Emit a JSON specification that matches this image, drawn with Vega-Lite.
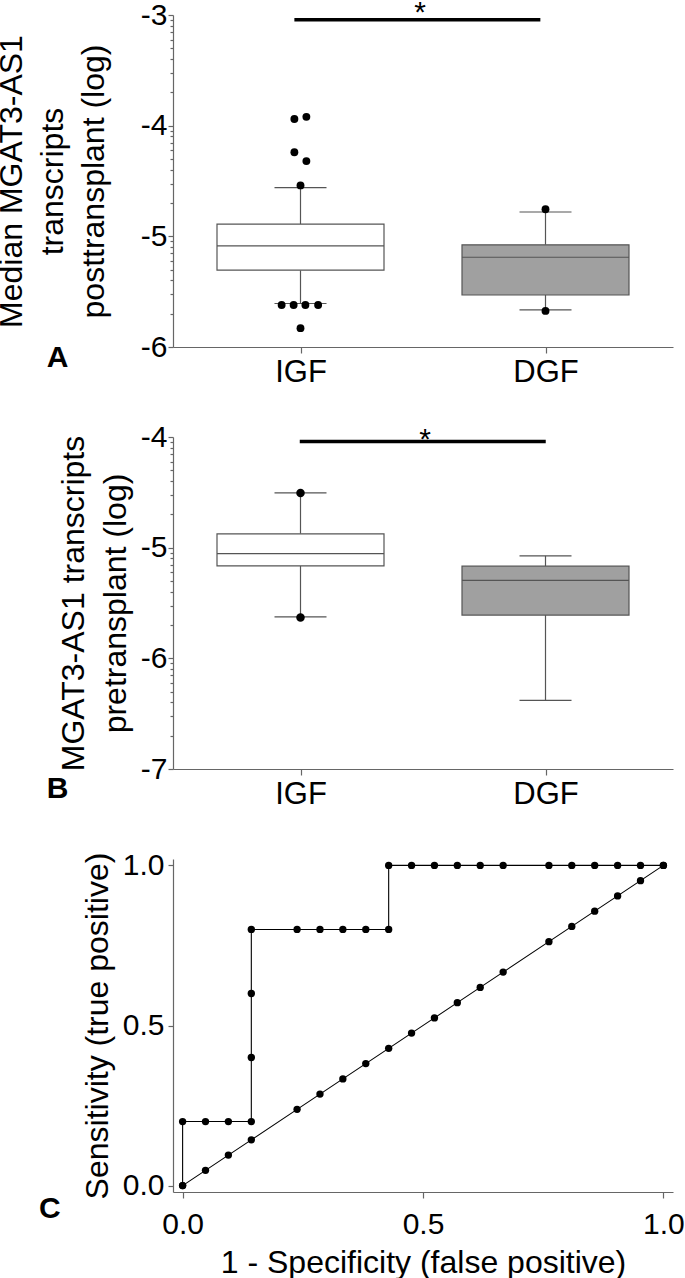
{
  "$schema": "https://vega.github.io/schema/vega-lite/v6.json",
  "padding": {"left": -5, "top": -2, "right": 0, "bottom": 0},
  "background": "white",
  "bounds": "flush",
  "spacing": 90,
  "config": {
    "font": "Liberation Sans",
    "view": {"stroke": null},
    "axis": {
      "grid": false,
      "domainColor": "#666666",
      "tickColor": "#666666",
      "domainWidth": 1.2,
      "tickWidth": 1.2,
      "labelColor": "black",
      "titleColor": "black",
      "labelFont": "Liberation Sans",
      "titleFont": "Liberation Sans",
      "labelFontSize": 30,
      "titleFontSize": 32,
      "titleFontWeight": "normal",
      "labelFlush": false,
      "labelOverlap": false
    }
  },
  "datasets": {
    "boxA": [
      {"grp": "IGF", "pos": 1, "lo": -5.607, "q1": -5.306, "median": -5.087, "q3": -4.89, "hi": -4.56},
      {"grp": "DGF", "pos": 2, "lo": -5.665, "q1": -5.53, "median": -5.189, "q3": -5.077, "hi": -4.78}
    ],
    "ptsA": [
      {"grp": "IGF", "pos": 0.975, "val": -3.94},
      {"grp": "IGF", "pos": 1.024, "val": -3.92},
      {"grp": "IGF", "pos": 0.975, "val": -4.24},
      {"grp": "IGF", "pos": 1.024, "val": -4.32},
      {"grp": "IGF", "pos": 1.0, "val": -4.54},
      {"grp": "IGF", "pos": 0.923, "val": -5.62},
      {"grp": "IGF", "pos": 0.972, "val": -5.62},
      {"grp": "IGF", "pos": 1.02, "val": -5.62},
      {"grp": "IGF", "pos": 1.072, "val": -5.62},
      {"grp": "IGF", "pos": 1.0, "val": -5.83},
      {"grp": "DGF", "pos": 2.0, "val": -4.755},
      {"grp": "DGF", "pos": 2.0, "val": -5.674}
    ],
    "boxB": [
      {"grp": "IGF", "pos": 1, "lo": -5.625, "q1": -5.164, "median": -5.053, "q3": -4.875, "hi": -4.505},
      {"grp": "DGF", "pos": 2, "lo": -6.379, "q1": -5.609, "median": -5.296, "q3": -5.167, "hi": -5.074}
    ],
    "ptsB": [
      {"grp": "IGF", "pos": 1.0, "val": -4.505},
      {"grp": "IGF", "pos": 1.0, "val": -5.63}
    ],
    "roc": [
      {"curve": "ROC", "n": 0, "fpr": 0, "tpr": 0},
      {"curve": "ROC", "n": 1, "fpr": 0, "tpr": 0.2},
      {"curve": "ROC", "n": 2, "fpr": 0.0476, "tpr": 0.2},
      {"curve": "ROC", "n": 3, "fpr": 0.0952, "tpr": 0.2},
      {"curve": "ROC", "n": 4, "fpr": 0.1429, "tpr": 0.2},
      {"curve": "ROC", "n": 5, "fpr": 0.1429, "tpr": 0.4},
      {"curve": "ROC", "n": 6, "fpr": 0.1429, "tpr": 0.6},
      {"curve": "ROC", "n": 7, "fpr": 0.1429, "tpr": 0.8},
      {"curve": "ROC", "n": 8, "fpr": 0.2381, "tpr": 0.8},
      {"curve": "ROC", "n": 9, "fpr": 0.2857, "tpr": 0.8},
      {"curve": "ROC", "n": 10, "fpr": 0.3333, "tpr": 0.8},
      {"curve": "ROC", "n": 11, "fpr": 0.381, "tpr": 0.8},
      {"curve": "ROC", "n": 12, "fpr": 0.4286, "tpr": 0.8},
      {"curve": "ROC", "n": 13, "fpr": 0.4286, "tpr": 1},
      {"curve": "ROC", "n": 14, "fpr": 0.4762, "tpr": 1},
      {"curve": "ROC", "n": 15, "fpr": 0.5238, "tpr": 1},
      {"curve": "ROC", "n": 16, "fpr": 0.5714, "tpr": 1},
      {"curve": "ROC", "n": 17, "fpr": 0.619, "tpr": 1},
      {"curve": "ROC", "n": 18, "fpr": 0.6667, "tpr": 1},
      {"curve": "ROC", "n": 19, "fpr": 0.7619, "tpr": 1},
      {"curve": "ROC", "n": 20, "fpr": 0.8095, "tpr": 1},
      {"curve": "ROC", "n": 21, "fpr": 0.8571, "tpr": 1},
      {"curve": "ROC", "n": 22, "fpr": 0.9048, "tpr": 1},
      {"curve": "ROC", "n": 23, "fpr": 0.9524, "tpr": 1},
      {"curve": "ROC", "n": 24, "fpr": 1, "tpr": 1},
      {"curve": "chance", "n": 0, "fpr": 0, "tpr": 0},
      {"curve": "chance", "n": 1, "fpr": 0.0476, "tpr": 0.0476},
      {"curve": "chance", "n": 2, "fpr": 0.0952, "tpr": 0.0952},
      {"curve": "chance", "n": 3, "fpr": 0.1429, "tpr": 0.1429},
      {"curve": "chance", "n": 4, "fpr": 0.2381, "tpr": 0.2381},
      {"curve": "chance", "n": 5, "fpr": 0.2857, "tpr": 0.2857},
      {"curve": "chance", "n": 6, "fpr": 0.3333, "tpr": 0.3333},
      {"curve": "chance", "n": 7, "fpr": 0.381, "tpr": 0.381},
      {"curve": "chance", "n": 8, "fpr": 0.4286, "tpr": 0.4286},
      {"curve": "chance", "n": 9, "fpr": 0.4762, "tpr": 0.4762},
      {"curve": "chance", "n": 10, "fpr": 0.5238, "tpr": 0.5238},
      {"curve": "chance", "n": 11, "fpr": 0.5714, "tpr": 0.5714},
      {"curve": "chance", "n": 12, "fpr": 0.619, "tpr": 0.619},
      {"curve": "chance", "n": 13, "fpr": 0.6667, "tpr": 0.6667},
      {"curve": "chance", "n": 14, "fpr": 0.7619, "tpr": 0.7619},
      {"curve": "chance", "n": 15, "fpr": 0.8095, "tpr": 0.8095},
      {"curve": "chance", "n": 16, "fpr": 0.8571, "tpr": 0.8571},
      {"curve": "chance", "n": 17, "fpr": 0.9048, "tpr": 0.9048},
      {"curve": "chance", "n": 18, "fpr": 0.9524, "tpr": 0.9524},
      {"curve": "chance", "n": 19, "fpr": 1, "tpr": 1}
    ]
  },
  "vconcat": [
    {
      "width": 500,
      "height": 332,
      "encoding": {
        "x": {"field": "pos", "type": "quantitative", "scale": {"domain": [0.5, 2.5], "nice": false, "zero": false},
          "axis": {"values": [1, 2], "labelExpr": "datum.value == 1 ? 'IGF' : 'DGF'", "title": null, "tickSize": 6, "labelPadding": 4, "labelFontSize": 31}},
        "y": {"field": "val", "type": "quantitative", "scale": {"domain": [-6, -3], "nice": false, "zero": false},
          "axis": {
            "values": [-6, -5.699, -5.523, -5.398, -5.301, -5.222, -5.155, -5.097, -5.046, -5, -4.699, -4.523, -4.398, -4.301, -4.222, -4.155, -4.097, -4.046, -4, -3.699, -3.523, -3.398, -3.301, -3.222, -3.155, -3.097, -3.046, -3],
            "labelExpr": "datum.value % 1 == 0 ? '' + datum.value : ''",
            "tickSize": {"condition": {"test": "datum.value % 1 == 0", "value": 5}, "value": 3},
            "labelPadding": 1,
            "title": ["Median MGAT3-AS1", "transcripts", "posttransplant (log)"],
            "titleLineHeight": 41,
            "titlePadding": 30
          }}
      },
      "layer": [
        {"data": {"name": "boxA"}, "mark": {"type": "rule", "color": "#555555", "strokeWidth": 1.2},
          "encoding": {"y": {"field": "hi", "type": "quantitative"}, "y2": {"field": "q3"}}},
        {"data": {"name": "boxA"}, "mark": {"type": "rule", "color": "#555555", "strokeWidth": 1.2},
          "encoding": {"y": {"field": "lo", "type": "quantitative"}, "y2": {"field": "q1"}}},
        {"data": {"name": "boxA"}, "mark": {"type": "bar", "orient": "vertical", "size": 167, "stroke": "#555555", "strokeWidth": 1.2},
          "encoding": {"y": {"field": "q1", "type": "quantitative"}, "y2": {"field": "q3"},
            "fill": {"field": "grp", "type": "nominal", "scale": {"domain": ["IGF", "DGF"], "range": ["#ffffff", "#a0a0a0"]}, "legend": null}}},
        {"data": {"name": "boxA"}, "mark": {"type": "tick", "orient": "horizontal", "size": 167, "thickness": 1.2, "color": "#555555", "opacity": 1},
          "encoding": {"y": {"field": "median", "type": "quantitative"}}},
        {"data": {"name": "boxA"}, "mark": {"type": "tick", "orient": "horizontal", "size": 52, "thickness": 1.2, "color": "#555555", "opacity": 1},
          "encoding": {"y": {"field": "hi", "type": "quantitative"}}},
        {"data": {"name": "boxA"}, "mark": {"type": "tick", "orient": "horizontal", "size": 52, "thickness": 1.2, "color": "#555555", "opacity": 1},
          "encoding": {"y": {"field": "lo", "type": "quantitative"}}},
        {"data": {"name": "ptsA"}, "mark": {"type": "circle", "size": 62, "color": "black", "opacity": 1}},
        {"data": {"values": [{"pos": 0.975, "pos2": 1.979, "val": -3.043}]}, "mark": {"type": "rule", "color": "black", "strokeWidth": 3.5},
          "encoding": {"x2": {"field": "pos2"}}},
        {"data": {"values": [{"pos": 1.488, "val": -3.065, "label": "*"}]}, "mark": {"type": "text", "fontSize": 30, "align": "center", "baseline": "alphabetic", "color": "black"},
          "encoding": {"text": {"field": "label"}}},
        {"data": {"values": [{"pos": 0.008, "val": -6.18, "label": "A"}]}, "mark": {"type": "text", "fontSize": 30, "fontWeight": "bold", "align": "center", "baseline": "alphabetic", "color": "black"},
          "encoding": {"text": {"field": "label"}}}
      ]
    },
    {
      "width": 500,
      "height": 332,
      "encoding": {
        "x": {"field": "pos", "type": "quantitative", "scale": {"domain": [0.5, 2.5], "nice": false, "zero": false},
          "axis": {"values": [1, 2], "labelExpr": "datum.value == 1 ? 'IGF' : 'DGF'", "title": null, "tickSize": 6, "labelPadding": 4, "labelFontSize": 31}},
        "y": {"field": "val", "type": "quantitative", "scale": {"domain": [-7, -4], "nice": false, "zero": false},
          "axis": {
            "values": [-7, -6.699, -6.523, -6.398, -6.301, -6.222, -6.155, -6.097, -6.046, -6, -5.699, -5.523, -5.398, -5.301, -5.222, -5.155, -5.097, -5.046, -5, -4.699, -4.523, -4.398, -4.301, -4.222, -4.155, -4.097, -4.046, -4],
            "labelExpr": "datum.value % 1 == 0 ? '' + datum.value : ''",
            "tickSize": {"condition": {"test": "datum.value % 1 == 0", "value": 5}, "value": 3},
            "labelPadding": 1,
            "title": ["MGAT3-AS1 transcripts", "pretransplant (log)"],
            "titleLineHeight": 42,
            "titlePadding": 8
          }}
      },
      "layer": [
        {"data": {"name": "boxB"}, "mark": {"type": "rule", "color": "#555555", "strokeWidth": 1.2},
          "encoding": {"y": {"field": "hi", "type": "quantitative"}, "y2": {"field": "q3"}}},
        {"data": {"name": "boxB"}, "mark": {"type": "rule", "color": "#555555", "strokeWidth": 1.2},
          "encoding": {"y": {"field": "lo", "type": "quantitative"}, "y2": {"field": "q1"}}},
        {"data": {"name": "boxB"}, "mark": {"type": "bar", "orient": "vertical", "size": 167, "stroke": "#555555", "strokeWidth": 1.2},
          "encoding": {"y": {"field": "q1", "type": "quantitative"}, "y2": {"field": "q3"},
            "fill": {"field": "grp", "type": "nominal", "scale": {"domain": ["IGF", "DGF"], "range": ["#ffffff", "#a0a0a0"]}, "legend": null}}},
        {"data": {"name": "boxB"}, "mark": {"type": "tick", "orient": "horizontal", "size": 167, "thickness": 1.2, "color": "#555555", "opacity": 1},
          "encoding": {"y": {"field": "median", "type": "quantitative"}}},
        {"data": {"name": "boxB"}, "mark": {"type": "tick", "orient": "horizontal", "size": 52, "thickness": 1.2, "color": "#555555", "opacity": 1},
          "encoding": {"y": {"field": "hi", "type": "quantitative"}}},
        {"data": {"name": "boxB"}, "mark": {"type": "tick", "orient": "horizontal", "size": 52, "thickness": 1.2, "color": "#555555", "opacity": 1},
          "encoding": {"y": {"field": "lo", "type": "quantitative"}}},
        {"data": {"name": "ptsB"}, "mark": {"type": "circle", "size": 72, "color": "black", "opacity": 1}},
        {"data": {"values": [{"pos": 0.997, "pos2": 2.001, "val": -4.04}]}, "mark": {"type": "rule", "color": "black", "strokeWidth": 3.5},
          "encoding": {"x2": {"field": "pos2"}}},
        {"data": {"values": [{"pos": 1.509, "val": -4.107, "label": "*"}]}, "mark": {"type": "text", "fontSize": 30, "align": "center", "baseline": "alphabetic", "color": "black"},
          "encoding": {"text": {"field": "label"}}},
        {"data": {"values": [{"pos": 0.008, "val": -7.262, "label": "B"}]}, "mark": {"type": "text", "fontSize": 30, "fontWeight": "bold", "align": "center", "baseline": "alphabetic", "color": "black"},
          "encoding": {"text": {"field": "label"}}}
      ]
    },
    {
      "width": 500,
      "height": 333,
      "encoding": {
        "x": {"field": "fpr", "type": "quantitative", "scale": {"domain": [-0.02, 1.02], "nice": false, "zero": false},
          "axis": {"values": [0, 0.5, 1], "format": ".1f", "title": "1 - Specificity (false positive)", "tickSize": 6, "labelPadding": 11, "titlePadding": 8}},
        "y": {"field": "tpr", "type": "quantitative", "scale": {"domain": [-0.02, 1.02], "nice": false, "zero": false},
          "axis": {"values": [0, 0.5, 1], "format": ".1f", "title": "Sensitivity (true positive)", "tickSize": 5, "labelPadding": 4, "titlePadding": 8}}
      },
      "layer": [
        {"data": {"name": "roc"}, "mark": {"type": "line", "color": "black", "strokeWidth": 1.1},
          "encoding": {"detail": {"field": "curve", "type": "nominal"}, "order": {"field": "n", "type": "quantitative"}}},
        {"data": {"name": "roc"}, "mark": {"type": "circle", "size": 54, "color": "black", "opacity": 1}},
        {"data": {"values": [{"fpr": -0.276, "tpr": -0.101, "label": "C"}]}, "mark": {"type": "text", "fontSize": 30, "fontWeight": "bold", "align": "center", "baseline": "alphabetic", "color": "black"},
          "encoding": {"text": {"field": "label"}}}
      ]
    }
  ]
}
